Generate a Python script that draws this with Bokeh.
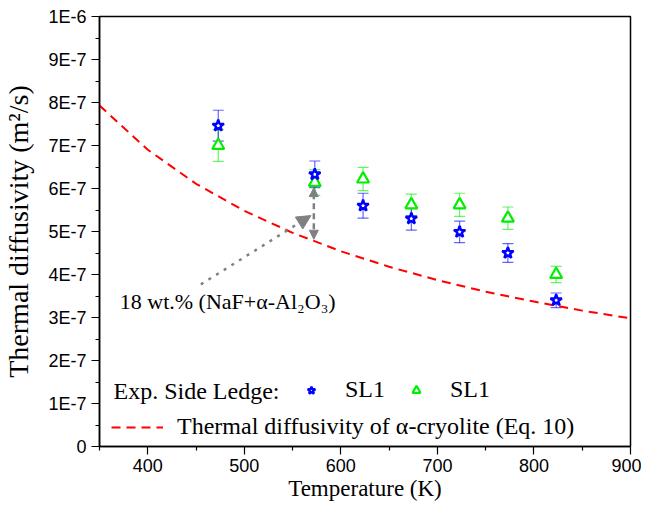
from bokeh.plotting import figure
from bokeh.models import (ColumnDataSource, Whisker, TeeHead, Arrow, NormalHead, Label,
                          Legend, LegendItem, FixedTicker)
from bokeh.embed import file_html
from bokeh.resources import INLINE

# ---- data (diffusivity in units of 1E-7 m^2/s) ----
temperature = [473, 573, 623, 673, 723, 773, 823]
sl1_star = [7.46, 6.33, 5.60, 5.30, 4.99, 4.50, 3.40]
sl1_star_err = [0.36, 0.31, 0.29, 0.27, 0.25, 0.22, 0.17]
sl1_tri = [7.00, 6.14, 6.22, 5.62, 5.62, 5.31, 4.00]
sl1_tri_err = [0.37, 0.30, 0.27, 0.25, 0.27, 0.26, 0.19]

cryolite_T = [350, 400, 450, 500, 550, 600, 650, 700, 750, 800, 850, 900]
cryolite_alpha = [7.93, 6.90, 6.11, 5.48, 4.97, 4.54, 4.18, 3.87, 3.60, 3.37, 3.16, 2.98]

x_ticks = [400, 500, 600, 700, 800, 900]
x_minor = [350, 450, 550, 650, 750, 850]
y_ticks = [0, 1, 2, 3, 4, 5, 6, 7, 8, 9, 10]
y_tick_labels = ["0", "1E-7", "2E-7", "3E-7", "4E-7", "5E-7", "6E-7", "7E-7", "8E-7", "9E-7", "1E-6"]
y_minor = [0.5, 1.5, 2.5, 3.5, 4.5, 5.5, 6.5, 7.5, 8.5, 9.5]

annotation_text = "18 wt.% (NaF+\u03b1-Al\u2082O\u2083)"
annotation_pos = (371, 3.38)
arrow_diag = (455, 3.77, 569, 5.37)
arrow_vert = (572, 4.82, 572, 6.02)

SERIF = "Liberation Serif"
SANS = "Liberation Sans"

p = figure(width=641, height=507, x_range=(350, 900), y_range=(0, 10),
           output_backend="svg", toolbar_location=None,
           min_border_left=97, min_border_right=11, min_border_top=16, min_border_bottom=61)
p.xgrid.visible = False
p.ygrid.visible = False
p.outline_line_color = "black"
p.outline_line_width = 1.5
p.outline_line_alpha = 1.0

# axes
p.xaxis.ticker = FixedTicker(ticks=x_ticks, minor_ticks=x_minor)
p.yaxis.ticker = FixedTicker(ticks=y_ticks, minor_ticks=y_minor)
p.yaxis.major_label_overrides = {t: l for t, l in zip(y_ticks, y_tick_labels)}
for ax in (p.xaxis, p.yaxis):
    ax.axis_line_width = 1.5
    ax.major_tick_out = 8
    ax.major_tick_in = 0
    ax.minor_tick_out = 4
    ax.minor_tick_in = 0
    ax.major_tick_line_width = 1.2
    ax.minor_tick_line_width = 1.2
    ax.major_label_text_font = SANS
    ax.major_label_text_font_size = "18px"
    ax.major_label_text_color = "black"
    ax.axis_label_text_font = SERIF
    ax.axis_label_text_font_style = "normal"
    ax.axis_label_text_color = "black"
p.xaxis.axis_label = "Temperature (K)"
p.xaxis.axis_label_text_font_size = "23px"
p.xaxis.axis_label_standoff = 1
p.xaxis.major_label_standoff = 4
p.yaxis.axis_label = "Thermal diffusivity (m\u00b2/s)"
p.yaxis.axis_label_text_font_size = "28px"
p.yaxis.axis_label_standoff = 11
p.yaxis.major_label_standoff = 5

# model line
r_line = p.line(cryolite_T, cryolite_alpha, line_color="#ff0000", line_width=2, line_dash="9 6")

# error bars
src_star = ColumnDataSource(dict(x=temperature, y=sl1_star,
                                 lo=[v - e for v, e in zip(sl1_star, sl1_star_err)],
                                 hi=[v + e for v, e in zip(sl1_star, sl1_star_err)]))
src_tri = ColumnDataSource(dict(x=temperature, y=sl1_tri,
                                lo=[v - e for v, e in zip(sl1_tri, sl1_tri_err)],
                                hi=[v + e for v, e in zip(sl1_tri, sl1_tri_err)]))
for src, col in ((src_tri, "#00ee00"), (src_star, "#0000ff")):
    w = Whisker(base="x", lower="lo", upper="hi", source=src, level="underlay",
                line_color=col, line_alpha=0.6, line_width=1.2,
                lower_head=TeeHead(size=11, line_color=col, line_alpha=0.6, line_width=1.2),
                upper_head=TeeHead(size=11, line_color=col, line_alpha=0.6, line_width=1.2))
    p.add_layout(w)

r_tri = p.scatter("x", "y", source=src_tri, marker="triangle", size=12,
                  fill_color="white", line_color="#00ee00", line_width=2.2)
r_star = p.scatter("x", "y", source=src_star, marker="star", size=12,
                   fill_color="white", line_color="#0000ff", line_width=2.4)

# annotation arrows
p.add_layout(Arrow(end=NormalHead(size=14, fill_color="gray", line_color="gray"),
                   x_start=arrow_diag[0], y_start=arrow_diag[1],
                   x_end=arrow_diag[2], y_end=arrow_diag[3],
                   line_color="gray", line_width=2.5, line_dash="3 6"))
p.add_layout(Arrow(start=NormalHead(size=9, fill_color="gray", line_color="gray"),
                   end=NormalHead(size=9, fill_color="gray", line_color="gray"),
                   x_start=arrow_vert[0], y_start=arrow_vert[1],
                   x_end=arrow_vert[2], y_end=arrow_vert[3],
                   line_color="gray", line_width=2.5, line_dash="6 4"))
p.add_layout(Label(x=annotation_pos[0], y=annotation_pos[1], text=annotation_text,
                   text_font=SERIF, text_font_size="22px", text_color="black",
                   text_baseline="alphabetic"))

# legend
p.add_layout(Label(x=14, y=56, x_units="screen", y_units="screen", text="Exp. Side Ledge:",
                   text_font=SERIF, text_font_size="24px", text_color="black",
                   text_baseline="middle"))
leg1 = Legend(items=[LegendItem(label="SL1", renderers=[r_star]),
                     LegendItem(label="SL1", renderers=[r_tri])],
              orientation="horizontal", location=(202, 43),
              glyph_width=20, glyph_height=20, label_standoff=24, spacing=21,
              padding=0, margin=0, border_line_alpha=0, background_fill_alpha=0,
              label_text_font=SERIF, label_text_font_size="24px", label_text_color="black")
leg2 = Legend(items=[LegendItem(label="Thermal diffusivity of \u03b1-cryolite (Eq. 10)",
                                renderers=[r_line])],
              location=(12, 6),
              glyph_width=52, glyph_height=20, label_standoff=14,
              padding=0, margin=0, border_line_alpha=0, background_fill_alpha=0,
              label_text_font=SERIF, label_text_font_size="24px", label_text_color="black")
p.add_layout(leg1)
p.add_layout(leg2)

open("out.html", "w").write(file_html(p, INLINE))
